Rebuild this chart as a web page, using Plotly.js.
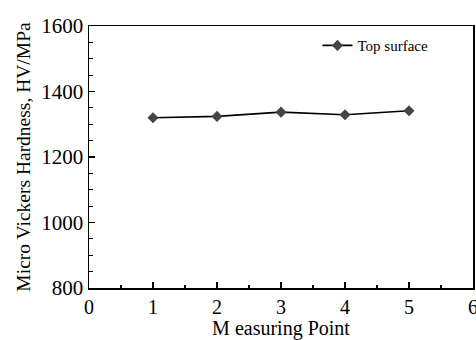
<!DOCTYPE html>
<html><head><meta charset="utf-8">
<script src="https://cdn.plot.ly/plotly-3.0.1.min.js"></script>
<style>html,body{margin:0;padding:0;background:#fff}#chart{width:476px;height:340px}</style>
</head><body><div id="chart"></div>
<script>
var points = [1, 2, 3, 4, 5];
var hardness = [1320, 1324, 1337, 1329, 1341];
var seriesName = 'Top surface';
var xTitle = 'M easuring Point';
var yTitle = 'Micro Vickers Hardness, HV/MPa';

var font = '"Liberation Serif", serif';
var trace = {
  x: points, y: hardness, name: seriesName, type: 'scatter', mode: 'lines+markers',
  line: {color: '#000', width: 1.6},
  marker: {symbol: 'diamond', size: 8.5, color: '#444'}
};
var layout = {
  width: 476, height: 340,
  margin: {l: 89, r: 3, t: 26, b: 52},
  paper_bgcolor: '#fff', plot_bgcolor: '#fff',
  font: {family: font, color: '#000', size: 15},
  showlegend: true,
  legend: {x: 0.595, y: 0.925, xanchor: 'left', yanchor: 'middle', bgcolor: 'rgba(0,0,0,0)',
           font: {family: font, size: 15}},
  xaxis: {range: [0, 6], dtick: 1, tick0: 0, showgrid: false, zeroline: false,
          showline: true, linecolor: '#000', linewidth: 1.5, mirror: true,
          ticks: 'inside', ticklen: 6, tickwidth: 1.2, tickcolor: '#000',
          ticklabeloverflow: 'allow',
          minor: {dtick: 0.5, ticks: 'inside', ticklen: 3, tickwidth: 1.2, tickcolor: '#000'},
          tickfont: {size: 20, family: font},
          title: {text: xTitle, standoff: 3, font: {size: 20, family: font}}},
  yaxis: {range: [800, 1600], dtick: 200, tick0: 800, showgrid: false, zeroline: false,
          showline: true, linecolor: '#000', linewidth: 1.5, mirror: true,
          ticks: 'inside', ticklen: 6, tickwidth: 1.2, tickcolor: '#000',
          ticklabeloverflow: 'allow',
          minor: {dtick: 50, ticks: 'inside', ticklen: 4, tickwidth: 1.2, tickcolor: '#000'},
          tickfont: {size: 21, family: font},
          title: {text: yTitle, standoff: 5, font: {size: 19.5, family: font}}}
};
Plotly.newPlot('chart', [trace], layout, {displayModeBar: false, staticPlot: true});
</script></body></html>
